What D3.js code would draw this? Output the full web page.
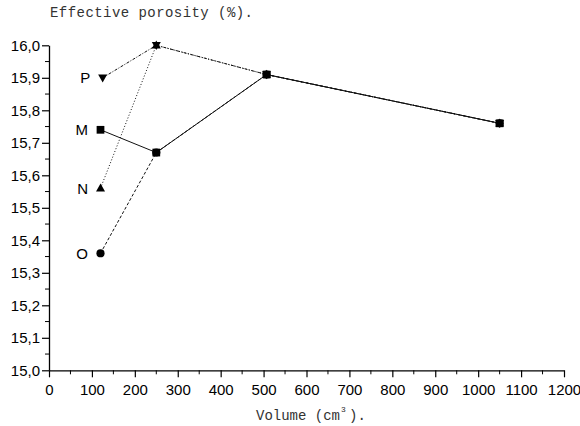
<!DOCTYPE html>
<html>
<head>
<meta charset="utf-8">
<script src="https://cdn.jsdelivr.net/npm/d3@7"></script>
<style>
  html, body { margin: 0; padding: 0; background: #fff; }
  svg { display: block; }
</style>
</head>
<body>
<svg id="chart" width="580" height="426"></svg>
<script>
// ---- data ----
const seriesNames = ["M", "N", "O", "P"];
const volumeM = [120, 250, 507, 1050];
const porosityM = [15.74, 15.67, 15.91, 15.76];
const volumeN = [120, 250, 507, 1050];
const porosityN = [15.56, 16.00, 15.91, 15.76];
const volumeO = [120, 250, 507, 1050];
const porosityO = [15.36, 15.67, 15.91, 15.76];
const volumeP = [125, 250, 507, 1050];
const porosityP = [15.90, 16.00, 15.91, 15.76];
const xTicks = [0, 100, 200, 300, 400, 500, 600, 700, 800, 900, 1000, 1100, 1200];
const yTicks = [15.0, 15.1, 15.2, 15.3, 15.4, 15.5, 15.6, 15.7, 15.8, 15.9, 16.0];
const titleText = "Effective porosity (%).";
const xLabelText = "Volume (cm";

const series = [
  { name: "M", xs: volumeM, ys: porosityM, symbol: "square", dash: null },
  { name: "N", xs: volumeN, ys: porosityN, symbol: "triUp", dash: "1,2" },
  { name: "O", xs: volumeO, ys: porosityO, symbol: "circle", dash: "3,2" },
  { name: "P", xs: volumeP, ys: porosityP, symbol: "triDown", dash: "3,1.5,1,1.5" }
];

const svg = d3.select("#chart");
const x = d3.scaleLinear().domain([0, 1200]).range([49, 564]);
const y = d3.scaleLinear().domain([15, 16]).range([370.3, 45.3]);

const tickFont = "'Liberation Sans', Arial, sans-serif";
const monoFont = "'Liberation Mono', 'Courier New', monospace";

// minor ticks
const xMinor = d3.range(0, 1201, 50).filter(v => v % 100 !== 0);
const yMinor = d3.range(0, 10).map(i => 15.05 + i * 0.1);

// x axis
const gx = svg.append("g").attr("transform", `translate(0,${y(15)})`);
gx.call(d3.axisBottom(x).tickValues(xTicks).tickSizeInner(7).tickSizeOuter(0).tickPadding(7).tickFormat(d3.format("d")));
gx.append("g").selectAll("line").data(xMinor).join("line")
  .attr("x1", d => x(d)).attr("x2", d => x(d)).attr("y1", 0).attr("y2", 4)
  .attr("stroke", "#000");

// y axis
const gy = svg.append("g").attr("transform", `translate(${x(0)},0)`);
gy.call(d3.axisLeft(y).tickValues(yTicks).tickSizeInner(7).tickSizeOuter(0).tickPadding(2)
  .tickFormat(d => d3.format(".1f")(d).replace(".", ",")));
gy.append("g").selectAll("line").data(yMinor).join("line")
  .attr("y1", d => y(d)).attr("y2", d => y(d)).attr("x1", 0).attr("x2", -4)
  .attr("stroke", "#000");

[gx, gy].forEach(g => {
  g.selectAll(".domain").attr("stroke", "#000").attr("stroke-width", 1.3);
  g.selectAll(".tick line").attr("stroke", "#000").attr("stroke-width", 1.2);
  g.selectAll("text").attr("font-family", tickFont).attr("font-size", 15).attr("fill", "#000");
});

// lines
const line = d3.line().x(d => x(d[0])).y(d => y(d[1]));
series.forEach(s => {
  const pts = s.xs.map((v, i) => [v, s.ys[i]]);
  svg.append("path")
    .attr("d", line(pts))
    .attr("fill", "none")
    .attr("stroke", "#111")
    .attr("stroke-width", 1)
    .attr("stroke-dasharray", s.dash);
});

// markers
function markerPath(sym) {
  if (sym === "square") return d3.symbol(d3.symbolSquare, 60)();
  if (sym === "circle") return d3.symbol(d3.symbolCircle, 52)();
  const h = 8, w = 9;
  if (sym === "triUp") return `M0,${-h*0.6}L${w/2},${h*0.4}L${-w/2},${h*0.4}Z`;
  return `M0,${h*0.6}L${w/2},${-h*0.4}L${-w/2},${-h*0.4}Z`;
}
series.forEach(s => {
  svg.append("g").selectAll("path").data(s.xs.map((v, i) => [v, s.ys[i]])).join("path")
    .attr("transform", d => `translate(${x(d[0])},${y(d[1])})`)
    .attr("d", markerPath(s.symbol))
    .attr("fill", "#000");
});

// series labels
series.forEach(s => {
  svg.append("text")
    .attr("x", x(s.xs[0]) - 12.5)
    .attr("y", y(s.ys[0]) + 5.4)
    .attr("text-anchor", "end")
    .attr("font-family", tickFont)
    .attr("font-size", 15)
    .attr("fill", "#000")
    .text(s.name);
});

// title
svg.append("text")
  .attr("x", 50).attr("y", 16.5)
  .attr("font-family", monoFont).attr("font-size", 14)
  .attr("textLength", 203).attr("lengthAdjust", "spacing")
  .attr("fill", "#333")
  .text(titleText);

// x label
const xl = svg.append("text")
  .attr("y", 420)
  .attr("font-family", monoFont).attr("font-size", 14)
  .attr("fill", "#333");
xl.append("tspan").attr("x", 256).text(xLabelText);
xl.append("tspan").attr("x", 341).attr("dy", -8).attr("font-size", 8).text("3");
xl.append("tspan").attr("x", 349).attr("dy", 8).text(").");
</script>
</body>
</html>
